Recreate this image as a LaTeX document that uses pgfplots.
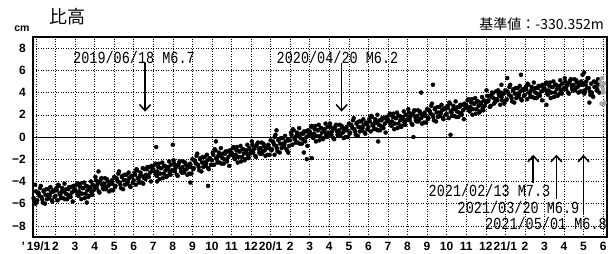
\documentclass[border=0pt]{standalone}
\usepackage{pgfplots}
\pgfplotsset{compat=1.18}
\usepackage{fontspec}
\setmainfont{Liberation Sans}
\newfontfamily\jp{Noto Sans CJK JP}
\newfontfamily\mono{Liberation Mono}
\usetikzlibrary{arrows.meta}
\begin{document}
\begin{tikzpicture}[x=1pt,y=1pt]
\begin{axis}[
  at={(33pt,17pt)}, anchor=south west,
  scale only axis, width=574pt, height=200pt,
  xmin=-0.15, xmax=29.2, ymin=-9, ymax=9,
  xtick={0,...,29},
  xticklabels={{'\,19/1},2,3,4,5,6,7,8,9,10,11,12,{20/1},2,3,4,5,6,7,8,9,10,11,12,{21/1},2,3,4,5,6},
  ytick={-8,-6,-4,-2,0,2,4,6,8},
  yticklabels={−8,−6,−4,−2,0,2,4,6,8},
  major tick length=0pt,
  grid=major,
  major grid style={black, line width=0.5pt, dash pattern=on 0.7pt off 1.8pt},
  axis line style={line width=1.3pt},
  tick label style={font=\bfseries\fontsize{12}{13}\selectfont},
  yticklabel style={inner sep=0pt, xshift=-7pt},
  xticklabel style={inner sep=0pt, yshift=-5pt},
]
\addplot[black, line width=0.9pt] coordinates {(-0.15,0) (29.2,0)};
\addplot[only marks, mark=*, mark size=2pt, black] table[row sep=\\] {
x y\\
-0.12 -5.5\\ -0.08 -5.9\\ -0.04 -4.3\\ -0.02 -6.0\\
0.00 -4.9\\ 0.07 -5.7\\ 0.14 -5.1\\ 0.21 -4.6\\ 0.28 -5.4\\ 0.35 -5.9\\ 0.42 -4.8\\ 0.49 -5.2\\ 0.56 -5.6\\ 0.63 -4.7\\ 0.70 -5.3\\ 0.77 -5.0\\ 0.84 -5.8\\ 0.91 -4.9\\
1.00 -5.3\\ 1.07 -4.8\\ 1.14 -4.3\\ 1.21 -5.1\\ 1.28 -5.5\\ 1.35 -4.6\\ 1.42 -4.9\\ 1.49 -5.6\\ 1.56 -4.7\\ 1.63 -5.2\\ 1.70 -4.5\\ 1.77 -5.4\\ 1.84 -5.0\\ 1.91 -4.4\\
2.00 -4.7\\ 2.07 -4.3\\ 2.14 -5.2\\ 2.21 -4.9\\ 2.28 -4.2\\ 2.35 -5.1\\ 2.42 -4.6\\ 2.49 -5.5\\ 2.56 -4.4\\ 2.63 -4.8\\ 2.70 -5.3\\ 2.77 -4.5\\ 2.84 -5.0\\ 2.91 -4.3\\
3.00 -4.5\\ 3.07 -3.9\\ 3.14 -4.3\\ 3.21 -4.9\\ 3.28 -4.0\\ 3.35 -3.7\\ 3.42 -4.6\\ 3.49 -4.2\\ 3.56 -4.7\\ 3.63 -3.8\\ 3.70 -4.4\\ 3.77 -4.1\\ 3.84 -4.8\\ 3.91 -4.2\\
4.00 -3.6\\ 4.07 -4.4\\ 4.14 -3.8\\ 4.21 -3.3\\ 4.28 -4.1\\ 4.35 -4.6\\ 4.42 -3.5\\ 4.49 -3.9\\ 4.56 -4.3\\ 4.63 -3.4\\ 4.70 -4.0\\ 4.77 -3.7\\ 4.84 -4.5\\ 4.91 -3.6\\
5.00 -3.9\\ 5.07 -3.4\\ 5.14 -2.9\\ 5.21 -3.7\\ 5.28 -4.1\\ 5.35 -3.2\\ 5.42 -3.5\\ 5.49 -4.2\\ 5.56 -2.9\\ 5.63 -3.4\\ 5.70 -2.7\\ 5.77 -3.6\\ 5.84 -3.2\\ 5.91 -2.6\\
6.00 -2.9\\ 6.07 -2.5\\ 6.14 -3.4\\ 6.21 -3.1\\ 6.28 -2.4\\ 6.35 -3.3\\ 6.42 -2.8\\ 6.49 -3.7\\ 6.56 -2.6\\ 6.63 -3.0\\ 6.70 -3.5\\ 6.77 -2.7\\ 6.84 -3.2\\ 6.91 -2.5\\
7.00 -3.0\\ 7.07 -2.4\\ 7.14 -2.8\\ 7.21 -3.4\\ 7.28 -2.5\\ 7.35 -2.2\\ 7.42 -3.1\\ 7.49 -2.7\\ 7.56 -3.2\\ 7.63 -2.3\\ 7.70 -2.9\\ 7.77 -2.6\\ 7.84 -3.3\\ 7.91 -2.7\\
8.00 -2.0\\ 8.07 -2.8\\ 8.14 -2.2\\ 8.21 -1.7\\ 8.28 -2.5\\ 8.35 -3.0\\ 8.42 -1.9\\ 8.49 -2.3\\ 8.56 -2.7\\ 8.63 -1.8\\ 8.70 -2.4\\ 8.77 -2.1\\ 8.84 -2.9\\ 8.91 -2.0\\
9.00 -2.1\\ 9.07 -1.6\\ 9.14 -1.1\\ 9.21 -1.9\\ 9.28 -2.3\\ 9.35 -1.4\\ 9.42 -1.7\\ 9.49 -2.4\\ 9.56 -1.5\\ 9.63 -2.0\\ 9.70 -1.3\\ 9.77 -2.2\\ 9.84 -1.8\\ 9.91 -1.2\\
10.00 -1.4\\ 10.07 -1.0\\ 10.14 -1.9\\ 10.21 -1.6\\ 10.28 -0.9\\ 10.35 -1.8\\ 10.42 -1.3\\ 10.49 -2.2\\ 10.56 -1.1\\ 10.63 -1.5\\ 10.70 -2.0\\ 10.77 -1.2\\ 10.84 -1.7\\ 10.91 -1.0\\
11.00 -1.3\\ 11.07 -0.7\\ 11.14 -1.1\\ 11.21 -1.7\\ 11.28 -0.8\\ 11.35 -0.5\\ 11.42 -1.4\\ 11.49 -1.0\\ 11.56 -1.5\\ 11.63 -0.6\\ 11.70 -1.2\\ 11.77 -0.9\\ 11.84 -1.6\\ 11.91 -1.0\\
12.00 -0.3\\ 12.07 -1.1\\ 12.14 -0.5\\ 12.21 0.0\\ 12.28 -0.8\\ 12.35 -1.3\\ 12.42 -0.2\\ 12.49 -0.6\\ 12.56 -1.0\\ 12.63 -0.1\\ 12.70 -0.7\\ 12.77 -0.4\\ 12.84 -1.2\\ 12.91 -0.3\\
13.00 -0.3\\ 13.07 0.2\\ 13.14 0.7\\ 13.21 -0.1\\ 13.28 -0.5\\ 13.35 0.4\\ 13.42 0.1\\ 13.49 -0.6\\ 13.56 0.3\\ 13.63 -0.2\\ 13.70 0.5\\ 13.77 -0.4\\ 13.84 0.0\\ 13.91 0.6\\
14.00 0.5\\ 14.07 0.9\\ 14.14 0.0\\ 14.21 0.3\\ 14.28 1.0\\ 14.35 0.1\\ 14.42 0.6\\ 14.49 -0.3\\ 14.56 0.8\\ 14.63 0.4\\ 14.70 -0.1\\ 14.77 0.7\\ 14.84 0.2\\ 14.91 0.9\\
15.00 0.3\\ 15.07 0.9\\ 15.14 0.5\\ 15.21 -0.1\\ 15.28 0.8\\ 15.35 1.1\\ 15.42 0.2\\ 15.49 0.6\\ 15.56 0.1\\ 15.63 1.0\\ 15.70 0.4\\ 15.77 0.7\\ 15.84 0.0\\ 15.91 0.6\\
16.00 1.2\\ 16.07 0.4\\ 16.14 1.0\\ 16.21 1.5\\ 16.28 0.7\\ 16.35 0.2\\ 16.42 1.3\\ 16.49 0.9\\ 16.56 0.5\\ 16.63 1.4\\ 16.70 0.8\\ 16.77 1.1\\ 16.84 0.3\\ 16.91 1.2\\
17.00 0.9\\ 17.07 1.4\\ 17.14 1.9\\ 17.21 1.1\\ 17.28 0.7\\ 17.35 1.6\\ 17.42 1.3\\ 17.49 0.6\\ 17.56 1.5\\ 17.63 1.0\\ 17.70 1.7\\ 17.77 0.8\\ 17.84 1.2\\ 17.91 1.8\\
18.00 1.6\\ 18.07 2.0\\ 18.14 1.1\\ 18.21 1.4\\ 18.28 2.1\\ 18.35 1.2\\ 18.42 1.7\\ 18.49 0.8\\ 18.56 1.9\\ 18.63 1.5\\ 18.70 1.0\\ 18.77 1.8\\ 18.84 1.3\\ 18.91 2.0\\
19.00 1.6\\ 19.07 2.2\\ 19.14 1.8\\ 19.21 1.2\\ 19.28 2.1\\ 19.35 2.4\\ 19.42 1.5\\ 19.49 1.9\\ 19.56 1.4\\ 19.63 2.3\\ 19.70 1.7\\ 19.77 2.0\\ 19.84 1.3\\ 19.91 1.9\\
20.00 2.5\\ 20.07 1.7\\ 20.14 2.3\\ 20.21 2.8\\ 20.28 2.0\\ 20.35 1.5\\ 20.42 2.6\\ 20.49 2.2\\ 20.56 1.8\\ 20.63 2.7\\ 20.70 2.1\\ 20.77 2.4\\ 20.84 1.6\\ 20.91 2.5\\
21.00 2.1\\ 21.07 2.6\\ 21.14 3.1\\ 21.21 2.3\\ 21.28 1.9\\ 21.35 2.8\\ 21.42 2.5\\ 21.49 1.8\\ 21.56 2.7\\ 21.63 2.2\\ 21.70 2.9\\ 21.77 2.0\\ 21.84 2.4\\ 21.91 3.0\\
22.00 2.9\\ 22.07 3.3\\ 22.14 2.4\\ 22.21 2.7\\ 22.28 3.4\\ 22.35 2.5\\ 22.42 3.0\\ 22.49 2.1\\ 22.56 3.2\\ 22.63 2.8\\ 22.70 2.3\\ 22.77 3.1\\ 22.84 2.6\\ 22.91 3.3\\
23.00 3.1\\ 23.07 3.7\\ 23.14 3.3\\ 23.21 2.7\\ 23.28 3.6\\ 23.35 3.9\\ 23.42 3.0\\ 23.49 3.4\\ 23.56 3.4\\ 23.63 4.2\\ 23.70 3.7\\ 23.77 4.0\\ 23.84 3.3\\ 23.91 3.9\\
24.00 4.2\\ 24.07 3.4\\ 24.14 4.0\\ 24.21 4.5\\ 24.28 3.7\\ 24.35 3.2\\ 24.42 4.3\\ 24.49 3.9\\ 24.56 3.5\\ 24.63 4.4\\ 24.70 3.8\\ 24.77 4.1\\ 24.84 3.3\\ 24.91 4.2\\
25.00 3.8\\ 25.07 4.3\\ 25.14 4.8\\ 25.21 4.0\\ 25.28 3.6\\ 25.35 4.5\\ 25.42 4.2\\ 25.49 3.5\\ 25.56 4.4\\ 25.63 3.9\\ 25.70 4.6\\ 25.77 3.7\\ 25.84 4.1\\ 25.91 4.7\\
26.00 4.4\\ 26.07 4.8\\ 26.14 3.9\\ 26.21 4.2\\ 26.28 4.9\\ 26.35 4.0\\ 26.42 4.5\\ 26.49 3.6\\ 26.56 4.7\\ 26.63 4.3\\ 26.70 3.8\\ 26.77 4.6\\ 26.84 4.1\\ 26.91 4.8\\
27.00 4.4\\ 27.07 5.0\\ 27.14 4.6\\ 27.21 4.0\\ 27.28 4.9\\ 27.35 5.2\\ 27.42 4.3\\ 27.49 4.7\\ 27.56 4.2\\ 27.63 5.1\\ 27.70 4.5\\ 27.77 4.8\\ 27.84 4.1\\ 27.91 4.7\\
27.95 5.6\\ 28.03 5.8\\
28.00 4.8\\ 28.07 4.2\\ 28.14 5.0\\ 28.21 5.3\\ 28.28 4.4\\ 28.35 3.8\\ 28.42 4.0\\ 28.49 3.6\\ 28.56 4.5\\ 28.63 4.9\\ 28.70 4.3\\ 28.77 4.7\\
0.04 -5.8\\ 0.11 -5.0\\ 0.18 -5.3\\ 0.25 -4.4\\ 0.32 -5.6\\ 0.39 -4.9\\ 0.46 -6.0\\ 0.53 -4.7\\ 0.60 -5.2\\ 0.67 -5.5\\ 0.74 -4.5\\ 0.81 -5.7\\ 0.88 -4.8\\ 0.95 -5.4\\
1.04 -4.6\\ 1.11 -5.7\\ 1.18 -4.4\\ 1.25 -5.2\\ 1.32 -4.9\\ 1.39 -5.5\\ 1.46 -4.2\\ 1.53 -5.1\\ 1.60 -5.6\\ 1.67 -4.7\\ 1.74 -5.3\\ 1.81 -4.5\\ 1.88 -5.8\\ 1.95 -4.8\\
2.04 -4.9\\ 2.11 -4.2\\ 2.18 -5.3\\ 2.25 -4.5\\ 2.32 -5.6\\ 2.39 -4.6\\ 2.46 -4.1\\ 2.53 -5.1\\ 2.60 -4.4\\ 2.67 -5.4\\ 2.74 -4.7\\ 2.81 -4.0\\ 2.88 -5.2\\ 2.95 -4.8\\
3.04 -3.6\\ 3.11 -4.6\\ 3.18 -4.1\\ 3.25 -5.0\\ 3.32 -3.8\\ 3.39 -4.3\\ 3.46 -4.7\\ 3.53 -3.7\\ 3.60 -4.5\\ 3.67 -4.0\\ 3.74 -4.9\\ 3.81 -4.2\\ 3.88 -3.9\\ 3.95 -4.8\\
4.04 -4.5\\ 4.11 -3.7\\ 4.18 -4.0\\ 4.25 -3.1\\ 4.32 -4.3\\ 4.39 -3.6\\ 4.46 -4.7\\ 4.53 -3.4\\ 4.60 -3.9\\ 4.67 -4.2\\ 4.74 -3.2\\ 4.81 -4.4\\ 4.88 -3.5\\ 4.95 -4.1\\
5.04 -3.2\\ 5.11 -4.3\\ 5.18 -3.0\\ 5.25 -3.8\\ 5.32 -3.5\\ 5.39 -4.1\\ 5.46 -2.8\\ 5.53 -3.7\\ 5.60 -3.8\\ 5.67 -2.9\\ 5.74 -3.5\\ 5.81 -2.7\\ 5.88 -4.0\\ 5.95 -3.0\\
6.04 -3.1\\ 6.11 -2.4\\ 6.18 -3.5\\ 6.25 -2.7\\ 6.32 -3.8\\ 6.39 -2.8\\ 6.46 -2.3\\ 6.53 -3.3\\ 6.60 -2.6\\ 6.67 -3.6\\ 6.74 -2.9\\ 6.81 -2.2\\ 6.88 -3.4\\ 6.95 -3.0\\
7.04 -2.1\\ 7.11 -3.1\\ 7.18 -2.6\\ 7.25 -3.5\\ 7.32 -2.3\\ 7.39 -2.8\\ 7.46 -3.2\\ 7.53 -2.2\\ 7.60 -3.0\\ 7.67 -2.5\\ 7.74 -3.4\\ 7.81 -2.7\\ 7.88 -2.4\\ 7.95 -3.3\\
8.04 -2.9\\ 8.11 -2.1\\ 8.18 -2.4\\ 8.25 -1.5\\ 8.32 -2.7\\ 8.39 -2.0\\ 8.46 -3.1\\ 8.53 -1.8\\ 8.60 -2.3\\ 8.67 -2.6\\ 8.74 -1.6\\ 8.81 -2.8\\ 8.88 -1.9\\ 8.95 -2.5\\
9.04 -1.4\\ 9.11 -2.5\\ 9.18 -1.2\\ 9.25 -2.0\\ 9.32 -1.7\\ 9.39 -2.3\\ 9.46 -1.0\\ 9.53 -1.9\\ 9.60 -2.4\\ 9.67 -1.5\\ 9.74 -2.1\\ 9.81 -1.3\\ 9.88 -2.6\\ 9.95 -1.6\\
10.04 -1.6\\ 10.11 -0.9\\ 10.18 -2.0\\ 10.25 -1.2\\ 10.32 -2.3\\ 10.39 -1.3\\ 10.46 -0.8\\ 10.53 -1.8\\ 10.60 -1.1\\ 10.67 -2.1\\ 10.74 -1.4\\ 10.81 -0.7\\ 10.88 -1.9\\ 10.95 -1.5\\
11.04 -0.4\\ 11.11 -1.4\\ 11.18 -0.9\\ 11.25 -1.8\\ 11.32 -0.6\\ 11.39 -1.1\\ 11.46 -1.5\\ 11.53 -0.5\\ 11.60 -1.3\\ 11.67 -0.8\\ 11.74 -1.7\\ 11.81 -1.0\\ 11.88 -0.7\\ 11.95 -1.6\\
12.04 -1.2\\ 12.11 -0.4\\ 12.18 -0.7\\ 12.25 0.2\\ 12.32 -1.0\\ 12.39 -0.3\\ 12.46 -1.4\\ 12.53 -0.1\\ 12.60 -0.6\\ 12.67 -0.9\\ 12.74 0.1\\ 12.81 -1.1\\ 12.88 -0.2\\ 12.95 -0.8\\
13.04 0.4\\ 13.11 -0.7\\ 13.18 0.6\\ 13.25 -0.2\\ 13.32 0.1\\ 13.39 -0.5\\ 13.46 0.8\\ 13.53 -0.1\\ 13.60 -0.6\\ 13.67 0.3\\ 13.74 -0.3\\ 13.81 0.5\\ 13.88 -0.8\\ 13.95 0.2\\
14.04 0.3\\ 14.11 1.0\\ 14.18 -0.1\\ 14.25 0.7\\ 14.32 -0.4\\ 14.39 0.6\\ 14.46 1.1\\ 14.53 0.1\\ 14.60 0.8\\ 14.67 -0.2\\ 14.74 0.5\\ 14.81 1.2\\ 14.88 0.0\\ 14.95 0.4\\
15.04 1.2\\ 15.11 0.2\\ 15.18 0.7\\ 15.25 -0.2\\ 15.32 1.0\\ 15.39 0.5\\ 15.46 0.1\\ 15.53 1.1\\ 15.60 0.3\\ 15.67 0.8\\ 15.74 -0.1\\ 15.81 0.6\\ 15.88 0.9\\ 15.95 0.0\\
16.04 0.3\\ 16.11 1.1\\ 16.18 0.8\\ 16.25 1.7\\ 16.32 0.5\\ 16.39 1.2\\ 16.46 0.1\\ 16.53 1.4\\ 16.60 0.9\\ 16.67 0.6\\ 16.74 1.6\\ 16.81 0.4\\ 16.88 1.3\\ 16.95 0.7\\
17.04 1.6\\ 17.11 0.5\\ 17.18 1.8\\ 17.25 1.0\\ 17.32 1.3\\ 17.39 0.7\\ 17.46 2.0\\ 17.53 1.1\\ 17.60 0.6\\ 17.67 1.5\\ 17.74 0.9\\ 17.81 1.7\\ 17.88 0.4\\ 17.95 1.4\\
18.04 1.4\\ 18.11 2.1\\ 18.18 1.0\\ 18.25 1.8\\ 18.32 0.7\\ 18.39 1.7\\ 18.46 2.2\\ 18.53 1.2\\ 18.60 1.9\\ 18.67 0.9\\ 18.74 1.6\\ 18.81 2.3\\ 18.88 1.1\\ 18.95 1.5\\
19.04 2.5\\ 19.11 1.5\\ 19.18 2.0\\ 19.25 1.1\\ 19.32 2.3\\ 19.39 1.8\\ 19.46 1.4\\ 19.53 2.4\\ 19.60 1.6\\ 19.67 2.1\\ 19.74 1.2\\ 19.81 1.9\\ 19.88 2.2\\ 19.95 1.3\\
20.04 1.6\\ 20.11 2.4\\ 20.18 2.1\\ 20.25 3.0\\ 20.32 1.8\\ 20.39 2.5\\ 20.46 1.4\\ 20.53 2.7\\ 20.60 2.2\\ 20.67 1.9\\ 20.74 2.9\\ 20.81 1.7\\ 20.88 2.6\\ 20.95 2.0\\
21.04 2.8\\ 21.11 1.7\\ 21.18 3.0\\ 21.25 2.2\\ 21.32 2.5\\ 21.39 1.9\\ 21.46 3.2\\ 21.53 2.3\\ 21.60 1.8\\ 21.67 2.7\\ 21.74 2.1\\ 21.81 2.9\\ 21.88 1.6\\ 21.95 2.6\\
22.04 2.7\\ 22.11 3.4\\ 22.18 2.3\\ 22.25 3.1\\ 22.32 2.0\\ 22.39 3.0\\ 22.46 3.5\\ 22.53 2.5\\ 22.60 3.2\\ 22.67 2.2\\ 22.74 2.9\\ 22.81 3.6\\ 22.88 2.4\\ 22.95 2.8\\
23.04 4.2\\ 23.11 3.2\\ 23.18 3.7\\ 23.25 2.8\\ 23.32 4.0\\ 23.39 3.5\\ 23.46 3.1\\ 23.53 4.1\\ 23.60 3.3\\ 23.67 3.8\\ 23.74 2.9\\ 23.81 3.6\\ 23.88 3.9\\ 23.95 3.0\\
24.04 3.3\\ 24.11 4.1\\ 24.18 3.8\\ 24.25 4.7\\ 24.32 3.5\\ 24.39 4.2\\ 24.46 3.1\\ 24.53 4.4\\ 24.60 3.9\\ 24.67 3.6\\ 24.74 4.6\\ 24.81 3.4\\ 24.88 4.3\\ 24.95 3.7\\
25.04 4.5\\ 25.11 3.4\\ 25.18 4.7\\ 25.25 3.9\\ 25.32 4.2\\ 25.39 3.6\\ 25.46 4.9\\ 25.53 4.0\\ 25.60 3.5\\ 25.67 4.4\\ 25.74 3.8\\ 25.81 4.6\\ 25.88 3.3\\ 25.95 4.3\\
26.04 4.2\\ 26.11 4.9\\ 26.18 3.8\\ 26.25 4.6\\ 26.32 3.5\\ 26.39 4.5\\ 26.46 5.0\\ 26.53 4.0\\ 26.60 4.7\\ 26.67 3.7\\ 26.74 4.4\\ 26.81 5.1\\ 26.88 3.9\\ 26.95 4.3\\
27.04 5.3\\ 27.11 4.3\\ 27.18 4.8\\ 27.25 3.9\\ 27.32 5.1\\ 27.39 4.6\\ 27.46 4.2\\ 27.53 5.2\\ 27.60 4.4\\ 27.67 4.9\\ 27.74 4.0\\ 27.81 4.7\\ 27.88 5.0\\ 27.95 4.1\\
28.04 3.9\\ 28.11 4.7\\ 28.18 4.4\\ 28.25 5.3\\ 28.32 4.1\\ 28.39 4.8\\ 28.46 3.7\\ 28.53 5.0\\ 28.60 4.5\\ 28.67 4.2\\ 28.74 5.2\\ 28.81 4.0\\
6.15 -0.9\\ 7.00 -0.7\\ 6.20 -4.0\\ 7.90 -4.1\\ 8.80 -4.4\\ 9.20 -0.4\\ 12.30 0.6\\ 12.20 -1.6\\ 12.90 -1.4\\ 13.70 -1.4\\ 13.85 -2.0\\ 14.10 -1.9\\ 17.50 -0.4\\ 19.70 4.0\\ 19.30 0.0\\ 20.30 4.7\\ 21.20 0.2\\ 23.80 4.7\\ 24.10 5.3\\ 24.80 5.6\\ 26.10 2.9\\ 28.30 3.1\\ 3.20 -3.1\\ 2.60 -5.9\\
};
\addplot[only marks, mark=*, mark size=2pt, gray!70] table[row sep=\\] {
x y\\
28.85 5.0\\ 28.90 4.6\\ 28.95 5.3\\ 29.00 4.3\\ 29.05 4.8\\ 28.92 3.0\\ 29.00 2.9\\ 29.08 3.1\\ 29.02 4.0\\
};
\draw[line width=1.7pt, -{Straight Barb[length=6pt,width=11pt,line width=1.5pt]}] (axis cs:5.58,6.66) -- (axis cs:5.58,2.28);
\draw[line width=1.7pt, -{Straight Barb[length=6pt,width=11pt,line width=1.5pt]}] (axis cs:15.63,6.66) -- (axis cs:15.63,2.28);
\draw[line width=1.7pt, -{Straight Barb[length=6pt,width=11pt,line width=1.5pt]}] (axis cs:25.43,-4.1) -- (axis cs:25.43,-1.6);
\draw[line width=1.7pt, -{Straight Barb[length=6pt,width=11pt,line width=1.5pt]}] (axis cs:26.61,-5.6) -- (axis cs:26.61,-1.6);
\draw[line width=1.7pt, -{Straight Barb[length=6pt,width=11pt,line width=1.5pt]}] (axis cs:28.00,-6.9) -- (axis cs:28.00,-1.6);
\end{axis}
\begin{scope}[every node/.style={inner sep=0pt}]
\node[font=\mono\fontsize{13.5}{14}\selectfont] at (134,197) {\scalebox{1}[1.25]{2019/06/18 M6.7}};
\node[font=\mono\fontsize{13.5}{14}\selectfont] at (337.5,197) {\scalebox{1}[1.25]{2020/04/20 M6.2}};
\node[font=\mono\fontsize{13.5}{14}\selectfont] at (489.5,64) {\scalebox{1}[1.25]{2021/02/13 M7.3}};
\node[font=\mono\fontsize{13.5}{14}\selectfont] at (518.5,47) {\scalebox{1}[1.25]{2021/03/20 M6.9}};
\node[font=\mono\fontsize{13.5}{14}\selectfont] at (546,31) {\scalebox{1}[1.25]{2021/05/01 M6.8}};
\node[font=\bfseries\fontsize{10.5}{11}\selectfont] at (22,225) {cm};
\node[font=\jp\fontsize{18}{19}\selectfont] at (67,237) {比高};
\node[font=\jp\fontsize{14}{15}\selectfont, anchor=east] at (604,230) {基準値：-330.352m};
\end{scope}
\pgfresetboundingbox
\path[use as bounding box] (0,0) rectangle (610,254);
\end{tikzpicture}
\end{document}
